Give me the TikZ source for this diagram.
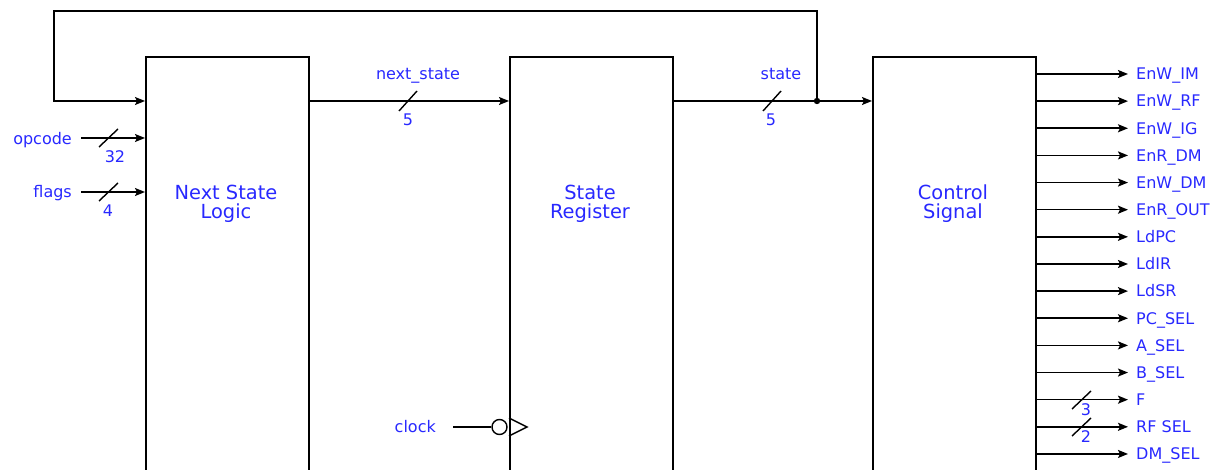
\documentclass[tikz,border=0pt]{standalone}
\usepackage{fontspec}
\setmainfont{DejaVu Sans}
\usetikzlibrary{arrows.meta}
\definecolor{lblue}{RGB}{40,40,255}
\begin{document}
\begin{tikzpicture}[x=1pt,y=-1pt,
  blk/.style={draw,line width=1.6pt,minimum width=163pt,minimum height=440pt,anchor=north west,inner sep=0pt},
  ttl/.style={text=lblue,font=\fontsize{19.4}{19}\selectfont,align=center,inner sep=0pt},
  lbl/.style={text=lblue,font=\fontsize{16}{18}\selectfont,inner sep=0pt,text height=11.7pt,text depth=0pt},
  wire/.style={line width=1.4pt},
  arr/.style={wire,-{Stealth[length=10pt,width=8pt,inset=2pt]}},
  busmark/.style={line width=1.4pt}
]
\useasboundingbox (0,0) rectangle (1220,470);
\clip (0,0) rectangle (1220,470);

% blocks
\node[blk] (nsl) at (145,56) {};
\node[blk] (sr) at (509,56) {};
\node[blk] (cs) at (872,56) {};
\node[ttl] (nslt) at (226,204) {Next State\\Logic};
\node[ttl] (srt) at (590,204) {State\\Register};
\node[ttl] (cst) at (953,204) {Control\\Signal};

% feedback / state bus
\coordinate (jn) at (817,101);
\coordinate (fbR) at (817,11);
\coordinate (fbL) at (54,11);
\draw[arr] (jn) -- (fbR) -- (fbL) |- (nsl.west |- jn);
\draw[arr] (nsl.east |- jn) -- (sr.west |- jn);
\draw[wire] (sr.east |- jn) -- (jn);
\draw[arr] (jn) -- (cs.west |- jn);
\fill (jn) circle (3.2);

\draw[busmark] (399,111) -- (417,91);
\node[lbl] (nsn) at (418,74) {next\_state};
\node[lbl] (nsw) at (408,120) {5};
\draw[busmark] (763,111) -- (781,91);
\node[lbl] (stn) at (781,74) {state};
\node[lbl] (stw) at (771,120) {5};

% inputs
\node[lbl,anchor=east] (opc) at (72,139) {opcode};
\coordinate (opcS) at (81,138);
\draw[arr] (opcS) -- (nsl.west |- opcS);
\draw[busmark] (99,147) -- (118,129);
\node[lbl] (opcw) at (115,157) {32};

\node[lbl,anchor=east] (flg) at (72,192) {flags};
\coordinate (flgS) at (81,192);
\draw[arr] (flgS) -- (nsl.west |- flgS);
\draw[busmark] (99,201) -- (118,183);
\node[lbl] (flgw) at (108,211) {4};

% clock
\node[lbl,anchor=east] (clk) at (436,427) {clock};
\coordinate (clkS) at (453,427);
\node[draw,circle,line width=1.4pt,minimum size=15pt,inner sep=0pt] (bub) at (499.5,427) {};
\draw[wire] (clkS) -- (bub.west);
\draw[wire] (sr.west |- 0,418) -- (527,427) -- (sr.west |- 0,436);

% outputs
\foreach \t [count=\i] in {EnW\_IM,EnW\_RF,EnW\_IG,EnR\_DM,EnW\_DM,EnR\_OUT,LdPC,LdIR,LdSR,PC\_SEL,A\_SEL,B\_SEL,F,RF SEL,DM\_SEL}{
  \pgfmathsetmacro\yy{74+(\i-1)*27.14}
  \coordinate (e\i) at (1128,\yy);
  \node[lbl,anchor=west] (o\i) at (1136,\yy) {\t};
  \draw[arr,line width=1.6pt] (cs.east |- e\i) -- (e\i);
}
\draw[busmark] (1072,409) -- (1091,391);
\node[lbl] (fw) at (1086,410) {3};
\draw[busmark] (1072,436) -- (1091,418);
\node[lbl] (rfw) at (1086,437) {2};
\end{tikzpicture}
\end{document}
